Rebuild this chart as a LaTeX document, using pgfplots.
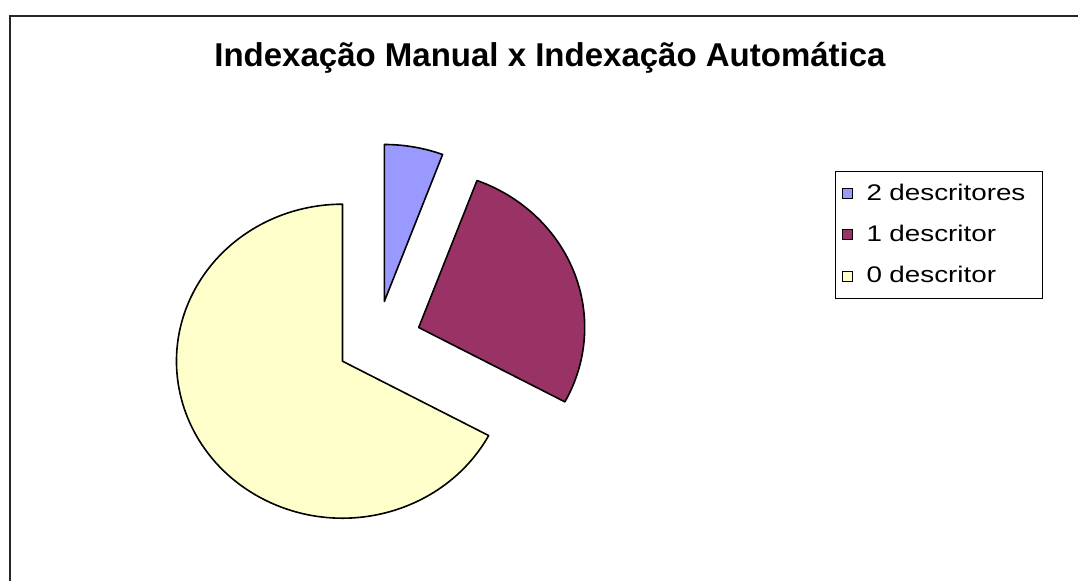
\documentclass[border=0pt]{standalone}
\usepackage{fontspec}
\setmainfont{Liberation Sans}
\newfontfamily\legfont[FakeStretch=1.23]{Liberation Sans}
\usepackage{pgfplots}
\usepackage{pgfplotstable}
\pgfplotsset{compat=1.18}
\definecolor{cBlue}{HTML}{9999FF}
\definecolor{cMaroon}{HTML}{993366}
\definecolor{cYellow}{HTML}{FFFFCC}

% slice values (counts) and apex position of each exploded slice (pixel layout)
\pgfplotstableread[col sep=comma]{
label,value,ax,ay
2 descritores,4,384.3,301.5
1 descritor,19,418.7,327.5
0 descritor,47,342.5,361.2
}\piedata

\begin{document}
\begin{tikzpicture}
\pgfplotstablegetelem{0}{value}\of\piedata \let\va\pgfplotsretval
\pgfplotstablegetelem{1}{value}\of\piedata \let\vb\pgfplotsretval
\pgfplotstablegetelem{2}{value}\of\piedata \let\vc\pgfplotsretval
\pgfplotstablegetelem{0}{ax}\of\piedata \let\axA\pgfplotsretval
\pgfplotstablegetelem{0}{ay}\of\piedata \let\ayA\pgfplotsretval
\pgfplotstablegetelem{1}{ax}\of\piedata \let\axB\pgfplotsretval
\pgfplotstablegetelem{1}{ay}\of\piedata \let\ayB\pgfplotsretval
\pgfplotstablegetelem{2}{ax}\of\piedata \let\axC\pgfplotsretval
\pgfplotstablegetelem{2}{ay}\of\piedata \let\ayC\pgfplotsretval
\pgfmathsetmacro\tot{\va+\vb+\vc}
\pgfmathsetmacro\aA{90}
\pgfmathsetmacro\aB{90-360*(\va/\tot)}
\pgfmathsetmacro\aC{\aB-360*(\vb/\tot)}
\pgfmathsetmacro\aD{\aC-360*(\vc/\tot)}
\path[use as bounding box] (0,0) rectangle (539pt,290.5pt);
\begin{axis}[
  at={(0,0)}, anchor=south west,
  scale only axis,
  x=0.5pt, y=0.5pt,
  xmin=0, xmax=1078, ymin=0, ymax=581,
  y dir=reverse,
  hide axis, clip=false,
  legend image code/.code={\draw[#1] (0pt,-2.5pt) rectangle (5pt,2.5pt);},
  legend style={at={(axis cs:835,171)}, anchor=north west,
    draw=black, line width=0.5pt,
    font=\fontsize{11.3}{13}\legfont,
    row sep=8.2pt, inner xsep=3pt, inner ysep=4.8pt,
    nodes={inner sep=1.5pt},
    /tikz/every odd column/.append style={column sep=5.5pt},
    /tikz/every even column/.append style={text width=83.5pt, align=left, text height=8pt, text depth=2.3pt}},
  legend cell align=left,
]
\addlegendimage{fill=cBlue, draw=black, line width=0.5pt}
\addlegendentry{2 descritores}
\addlegendimage{fill=cMaroon, draw=black, line width=0.5pt}
\addlegendentry{1 descritor}
\addlegendimage{fill=cYellow, draw=black, line width=0.5pt}
\addlegendentry{0 descritor}

\filldraw[fill=cBlue, draw=black, line width=0.8pt, line join=round]
  (axis cs:\axA,\ayA) -- ++(\aA:83pt and 78.5pt)
  arc[start angle=\aA, end angle=\aB, x radius=83pt, y radius=78.5pt] -- cycle;
\filldraw[fill=cMaroon, draw=black, line width=0.8pt, line join=round]
  (axis cs:\axB,\ayB) -- ++(\aB:83pt and 78.5pt)
  arc[start angle=\aB, end angle=\aC, x radius=83pt, y radius=78.5pt] -- cycle;
\filldraw[fill=cYellow, draw=black, line width=0.8pt, line join=round]
  (axis cs:\axC,\ayC) -- ++(\aC:83pt and 78.5pt)
  arc[start angle=\aC, end angle=\aD, x radius=83pt, y radius=78.5pt] -- cycle;

\draw[line width=0.6pt, black!85] (axis cs:10,581) -- (axis cs:10,16) -- (axis cs:1078,16);
\node[font=\fontsize{16.5}{19}\selectfont\bfseries] at (axis cs:550,58) {Indexação Manual x Indexação Automática};
\end{axis}
\end{tikzpicture}
\end{document}
